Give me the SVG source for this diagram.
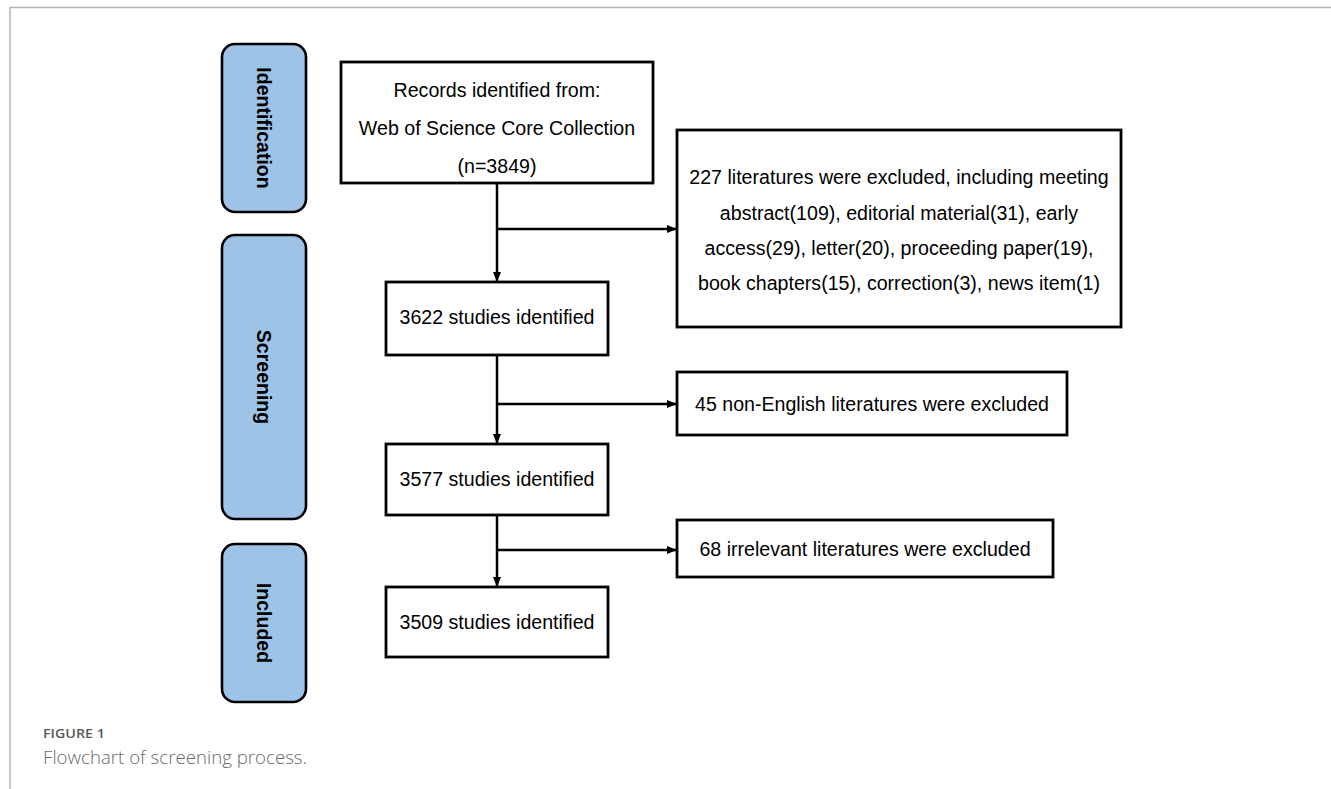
<svg xmlns="http://www.w3.org/2000/svg" width="1331" height="789" viewBox="0 0 1331 789">
  <defs>
    <marker id="arrow" viewBox="0 0 10 10" refX="10" refY="5" markerWidth="4" markerHeight="4" markerUnits="strokeWidth" orient="auto">
      <path d="M0,1 L10,5 L0,9 Z" fill="#000"/>
    </marker>
    <style>
      .stage rect { fill: #9DC3E6; stroke: #000; stroke-width: 2.6; }
      .stage text { font-family: "Liberation Sans", Arial, sans-serif; font-weight: bold; font-size: 19.5px; fill: #000; text-anchor: middle; dominant-baseline: central; }
      .box rect { fill: #fff; stroke: #000; stroke-width: 2.8; }
      .box text { font-family: "Liberation Sans", Arial, sans-serif; font-size: 19.6px; fill: #000; text-anchor: middle; }
      .conn path { fill: none; stroke: #000; stroke-width: 2.5; }
      .frame { stroke: #b5b5b5; stroke-width: 1.5; fill: none; }
    </style>
  </defs>
  <rect x="0" y="0" width="1331" height="789" fill="#fff"/>
  <path class="frame" d="M10,789 L10,7.5 L1331,7.5"/>

  <g id="stage-identification" class="stage">
    <rect x="222" y="44" width="84" height="168" rx="13" ry="13"/>
    <text transform="translate(264,128) rotate(90)">Identification</text>
  </g>
  <g id="stage-screening" class="stage">
    <rect x="222" y="235" width="84" height="284" rx="13" ry="13"/>
    <text transform="translate(264,377) rotate(90)">Screening</text>
  </g>
  <g id="stage-included" class="stage">
    <rect x="222" y="544" width="84" height="158" rx="13" ry="13"/>
    <text transform="translate(264,623) rotate(90)">Included</text>
  </g>

  <g id="records" class="box">
    <rect x="341" y="62" width="312" height="121"/>
    <text x="497" y="97">Records identified from:</text>
    <text x="497" y="135">Web of Science Core Collection</text>
    <text x="497" y="173">(n=3849)</text>
  </g>
  <g id="excluded-227" class="box">
    <rect x="677" y="130" width="444" height="197"/>
    <text x="899" y="184">227 literatures were excluded, including meeting</text>
    <text x="899" y="219.5">abstract(109), editorial material(31), early</text>
    <text x="899" y="255">access(29), letter(20), proceeding paper(19),</text>
    <text x="899" y="290">book chapters(15), correction(3), news item(1)</text>
  </g>
  <g id="studies-3622" class="box">
    <rect x="386" y="282" width="222" height="73"/>
    <text x="497" y="324">3622 studies identified</text>
  </g>
  <g id="excluded-45" class="box">
    <rect x="677" y="372" width="390" height="63"/>
    <text x="872" y="410.5">45 non-English literatures were excluded</text>
  </g>
  <g id="studies-3577" class="box">
    <rect x="386" y="444" width="222" height="71"/>
    <text x="497" y="486">3577 studies identified</text>
  </g>
  <g id="excluded-68" class="box">
    <rect x="677" y="520" width="376" height="57"/>
    <text x="865" y="555.5">68 irrelevant literatures were excluded</text>
  </g>
  <g id="studies-3509" class="box">
    <rect x="386" y="587" width="222" height="70"/>
    <text x="497" y="629">3509 studies identified</text>
  </g>

  <g id="connectors" class="conn">
    <path d="M497,183 L497,282" marker-end="url(#arrow)"/>
    <path d="M497,229 L677,229" marker-end="url(#arrow)"/>
    <path d="M497,355 L497,444" marker-end="url(#arrow)"/>
    <path d="M497,404 L677,404" marker-end="url(#arrow)"/>
    <path d="M497,515 L497,587" marker-end="url(#arrow)"/>
    <path d="M497,550 L677,550" marker-end="url(#arrow)"/>
  </g>

  <g id="caption">
    <text x="43" y="738" font-family="'Open Sans', 'Noto Sans', sans-serif" font-weight="600" font-size="13px" fill="#595959" textLength="62" lengthAdjust="spacingAndGlyphs">FIGURE 1</text>
    <text x="43" y="764" font-family="'Open Sans', 'Noto Sans', sans-serif" font-weight="300" font-size="18px" fill="#6a6a6a" textLength="264" lengthAdjust="spacingAndGlyphs">Flowchart of screening process.</text>
  </g>
</svg>
